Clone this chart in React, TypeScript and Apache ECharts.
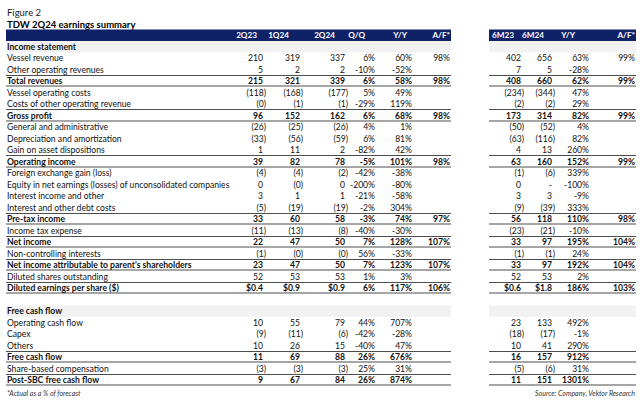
import React, { useEffect, useRef } from "react";
import * as echarts from "echarts";

// ---------- DATA ----------
const rowLabels = [
  "Income statement",
  "Vessel revenue",
  "Other operating revenues",
  "Total revenues",
  "Vessel operating costs",
  "Costs of other operating revenue",
  "Gross profit",
  "General and administrative",
  "Depreciation and amortization",
  "Gain on asset dispositions",
  "Operating income",
  "Foreign exchange gain (loss)",
  "Equity in net earnings (losses) of unconsolidated companies",
  "Interest income and other",
  "Interest and other debt costs",
  "Pre-tax income",
  "Income tax expense",
  "Net income",
  "Non-controlling interests",
  "Net income attributable to parent's shareholders",
  "Diluted shares outstanding",
  "Diluted earnings per share ($)",
  "",
  "Free cash flow",
  "Operating cash flow",
  "Capex",
  "Others",
  "Free cash flow",
  "Share-based compensation",
  "Post-SBC free cash flow",
];
const sectionRows = [0, 23];
const boldRows = [3, 6, 10, 15, 17, 19, 21, 27, 29];
const dollarRows = [21];

const leftHeaders = ["2Q23", "1Q24", "2Q24", "Q/Q", "Y/Y", "A/F*"];
const rightHeaders = ["6M23", "6M24", "Y/Y", "A/F*"];

const q2_23 = [null, 210, 5, 215, -118, -0.4, 96, -26, -33, 1, 39, -4, 0.2, 3, -5, 33, -11, 22, -1, 23, 52, 0.4, null, null, 10, -9, 10, 11, -3, 9];
const q1_24 = [null, 319, 2, 321, -168, -1, 152, -25, -56, 11, 82, -4, -0.2, 1, -19, 60, -13, 47, -0.4, 47, 53, 0.9, null, null, 55, -11, 26, 69, -3, 67];
const q2_24 = [null, 337, 2, 339, -177, -1, 162, -26, -59, 2, 78, -2, 0.1, 1, -19, 58, -8, 50, -0.3, 50, 53, 0.9, null, null, 79, -6, 15, 88, -3, 84];
const qoq = [null, 6, -10, 6, 5, -29, 6, 4, 6, -82, -5, -42, -200, -21, -2, -3, -40, 7, 56, 7, 1, 6, null, null, 44, -42, -40, 26, 25, 26];
const yoy = [null, 60, -52, 58, 49, 119, 68, 1, 81, 42, 101, -38, -80, -58, 304, 74, -30, 128, -33, 123, 3, 117, null, null, 707, -28, 47, 676, 31, 874];
const af = [null, 98, null, 98, null, null, 98, null, null, null, 98, null, null, null, null, 97, null, 107, null, 107, null, 106, null, null, null, null, null, null, null, null];
const h1_23 = [null, 402, 7, 408, -234, -2, 173, -50, -63, 4, 63, -1, 0.2, 3, -9, 56, -23, 33, -1, 33, 52, 0.6, null, null, 23, -18, 10, 16, -5, 11];
const h1_24 = [null, 656, 5, 660, -344, -2, 314, -52, -116, 13, 160, -6, 0, 3, -39, 118, -21, 97, -1, 97, 53, 1.8, null, null, 133, -17, 41, 157, -6, 151];
const yoy6m = [null, 63, -28, 62, 47, 29, 82, 4, 82, 260, 152, 339, -100, -9, 333, 110, -10, 195, 24, 192, 2, 186, null, null, 492, -1, 290, 912, 31, 1301];
const af6m = [null, 99, null, 99, null, null, 99, null, null, null, 99, null, null, null, null, 98, null, 104, null, 104, null, 103, null, null, null, null, null, null, null, null];

// ---------- STYLE / LAYOUT ----------
const FONT = "Lato, 'Open Sans', sans-serif";
const NAVY = "#0f2167";
const BAND = "#f2f2f2";
const TOPLINE = "#4d4d4d";
const BOTLINE = "#a6a6a6";
const FS = 8.6;

type Col = { header: string; values: (number | null)[]; kind: "num" | "pct"; edge: number; headEdge: number };

const leftTable = {
  left: 6,
  width: 445,
  labels: true,
  columns: [
    { header: leftHeaders[0], values: q2_23, kind: "num", edge: 257, headEdge: 251 },
    { header: leftHeaders[1], values: q1_24, kind: "num", edge: 294, headEdge: 283 },
    { header: leftHeaders[2], values: q2_24, kind: "num", edge: 339, headEdge: 329 },
    { header: leftHeaders[3], values: qoq, kind: "pct", edge: 369, headEdge: 359 },
    { header: leftHeaders[4], values: yoy, kind: "pct", edge: 406, headEdge: 401 },
    { header: leftHeaders[5], values: af, kind: "pct", edge: 444, headEdge: 444 },
  ] as Col[],
};
const rightTable = {
  left: 489,
  width: 147,
  labels: false,
  columns: [
    { header: rightHeaders[0], values: h1_23, kind: "num", edge: 32, headEdge: 25 },
    { header: rightHeaders[1], values: h1_24, kind: "num", edge: 63, headEdge: 55 },
    { header: rightHeaders[2], values: yoy6m, kind: "pct", edge: 100, headEdge: 86 },
    { header: rightHeaders[3], values: af6m, kind: "pct", edge: 146, headEdge: 146 },
  ] as Col[],
};

const TOP = 29.5;
const PITCH = 11.5;
const NROWS = rowLabels.length + 1; // header row + body rows

function fmt(v: number | null, kind: string, dollar: boolean): { s: string; neg: boolean } {
  if (v === null || v === undefined) return { s: "", neg: false };
  if (kind === "pct") return { s: Math.round(v) + "%", neg: false };
  if (dollar) return { s: "$" + v.toFixed(1), neg: false };
  if (v === 0) return { s: "-", neg: false };
  const a = Math.round(Math.abs(v));
  return v < 0 ? { s: "(" + a + ")", neg: true } : { s: String(a), neg: false };
}

function txt(s: string, x: number, y: number, align: string, color: string, bold: boolean, size = FS, italic = false) {
  return {
    type: "text",
    x,
    y,
    style: {
      text: s,
      fill: color,
      fontSize: size,
      fontFamily: FONT,
      fontWeight: bold ? "bold" : "normal",
      fontStyle: italic ? "italic" : "normal",
      align,
      verticalAlign: "middle",
    },
  };
}

function makeRenderer(table: typeof leftTable) {
  return function (params: any, api: any) {
    const r = api.value(1) as number;
    const h = api.size([0, 1])[1];
    const [xL, yc] = api.coord([0, r]);
    const [xR] = api.coord([table.width, r]);
    const X = (e: number) => api.coord([e, r])[0];
    const top = yc - h / 2;
    const bottom = yc + h / 2;
    const children: any[] = [];
    if (r === 0) {
      children.push({ type: "rect", shape: { x: xL, y: top, width: xR - xL, height: h }, style: { fill: NAVY } });
      table.columns.forEach((c) => children.push(txt(c.header, X(c.headEdge), yc, "right", "#ffffff", true, 8.2)));
      return { type: "group", children };
    }
    const i = r - 1;
    const isSection = sectionRows.includes(i);
    const isBold = boldRows.includes(i) || isSection;
    if (isSection) {
      children.push({ type: "rect", shape: { x: xL, y: top, width: xR - xL, height: h }, style: { fill: BAND } });
    }
    if (boldRows.includes(i)) {
      const ty = Math.round(top) - 0.5;
      const by = Math.round(bottom) - 1;
      children.push({ type: "line", shape: { x1: xL, y1: ty, x2: xR, y2: ty }, style: { stroke: TOPLINE, lineWidth: 1 } });
      children.push({ type: "line", shape: { x1: xL, y1: by, x2: xR, y2: by }, style: { stroke: BOTLINE, lineWidth: 2 } });
    }
    if (table.labels && rowLabels[i]) {
      children.push(txt(rowLabels[i], xL + 1, yc, "left", "#111111", isBold));
    }
    table.columns.forEach((c) => {
      const f = fmt(c.values[i], c.kind, dollarRows.includes(i));
      if (!f.s) return;
      const x = X(c.edge) + (f.neg ? 3 : 0);
      children.push(txt(f.s, x, yc, "right", "#111111", isBold));
    });
    return { type: "group", children };
  };
}

export default function App() {
  const ref = useRef<HTMLDivElement>(null);
  useEffect(() => {
    if (!ref.current) return;
    const chart = echarts.init(ref.current, undefined, { renderer: "svg" });
    const rowIdx = Array.from({ length: NROWS }, (_, k) => k);
    const tables = [leftTable, rightTable];
    chart.setOption({
      animation: false,
      grid: tables.map((t) => ({ left: t.left, width: t.width, top: TOP, height: PITCH * NROWS })),
      xAxis: tables.map((t, k) => ({ type: "value", gridIndex: k, min: 0, max: t.width, show: false })),
      yAxis: tables.map((t, k) => ({
        type: "category",
        gridIndex: k,
        inverse: true,
        data: rowIdx.map(String),
        show: false,
      })),
      series: tables.map((t, k) => ({
        type: "custom",
        xAxisIndex: k,
        yAxisIndex: k,
        renderItem: makeRenderer(t),
        data: rowIdx.map((r) => [0, r]),
        silent: true,
      })),
      graphic: [
        txt("Figure 2", 7, 12, "left", "#1a1a1a", false, 9.5),
        txt("TDW 2Q24 earnings summary", 7, 24, "left", "#000000", true, 9.5),
        txt("*Actual as a % of forecast", 7, 393, "left", "#333333", false, 7, true),
        txt("Source: Company, Vektor Research", 635, 393, "right", "#333333", false, 7, true),
      ],
    });
    return () => chart.dispose();
  }, []);
  return <div ref={ref} style={{ position: "fixed", left: 0, top: 0, width: 640, height: 402, background: "#fff" }} />;
}
